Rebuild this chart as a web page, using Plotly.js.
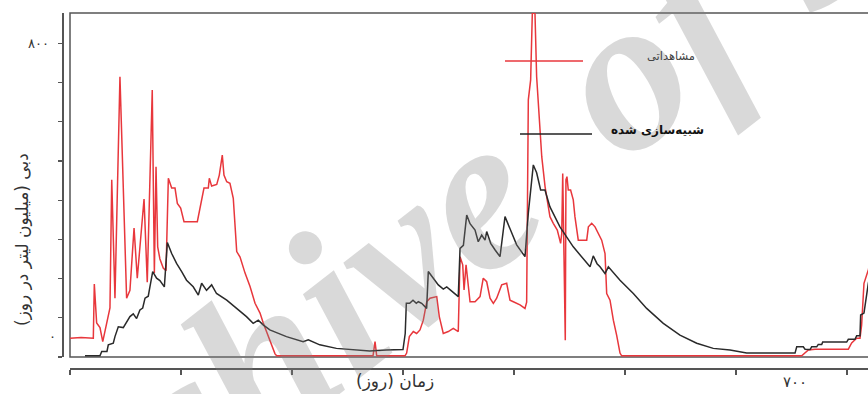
<!DOCTYPE html>
<html>
<head>
<meta charset="utf-8">
<script src="https://cdn.plot.ly/plotly-3.0.1.min.js"></script>
<style>
html,body{margin:0;padding:0;overflow:hidden;background:#fff;}
#chart{width:880px;height:394px;}
</style>
</head>
<body>
<div id="chart"></div>
<script>
// Observed discharge (مشاهداتی)
const obsDay = [0,10,21,21.9,24,27,29.5,33,36,37.6,40.5,45,51,54,57.7,60.6,66.7,69.6,74.1,76,77.5,79,81,84,86.5,88.6,91.6,94.6,96.7,99.7,102.7,114.7,118.6,120.7,124.6,125.5,127.6,132.2,134.5,137.2,138.7,141.2,144.1,147.1,150.2,153.2,157.7,162.2,166.7,171.2,174.1,180.2,184.7,186.2,273,274.8,276.3,301.8,303.3,305.7,309.3,312.3,315.3,318.3,321.4,324.3,330.4,332.7,336.3,340.8,345.3,349.8,351.4,353.8,355,356.8,358.8,360.4,364.9,369.4,372.3,375.4,378.4,381.4,384.4,388.9,393.4,396.4,399.4,405.4,409.9,411.4,412.9,415,416.5,418.9,420.4,422.8,425,428,429.5,432.4,435.4,439,442,443,443.9,445,446.2,446.8,447.7,448.9,451,453.4,454.9,457.9,465.5,467,470,473,476,479,482,483.5,486.5,489.5,492.5,495.5,497,659.2,665.2,671.2,701.2,704.2,708.7,711.7,713.2,715.3,719.2,722.5];
const obsFlow = [48,50,48,186,87,75,39,87,125,452,150,715,150,170,329,201,403,191,681,214,485,281,250,227,220,456,431,431,392,380,345,345,400,431,431,456,436,440,464,515,464,447,443,405,269,255,214,180,137,112,87,43,8,3,3,39,3,3,10,52,65,60,69,94,141,150,154,103,60,65,73,65,256,235,171,235,171,141,141,154,201,192,150,137,150,184,188,145,141,133,124,140,656,707,877,877,715,613,511,434,411,358,341,324,290,315,468,290,43,452,460,426,426,401,358,298,298,332,341,332,316,298,264,162,145,94,55,10,3,3,18,20,20,36,48,48,82,188,222,260];

// Simulated discharge (شبیه‌سازی شده)
const simDay = [13.5,27,28.6,33.3,34.5,39,40.5,43.5,48,49.5,51,54,57,60,63,65.5,67.6,70.5,72,74.5,78,81,85,87.7,91.6,96,100.6,105,111,115.6,118.6,123,127.6,132,141.2,150,159,165,169.6,174,180,195,210,214.7,225,240,255,270,285,300,302,303,306,309,312,313.8,316.8,321.3,322.8,327.3,331.8,336.3,339.4,343.9,349.8,351.4,354.4,357.4,360.4,364.9,367.8,370.9,373.9,375.4,379,383,387.4,391.9,397.3,402.4,409.9,412.9,417.4,420.4,424,427.9,432.4,441.4,453.4,465.5,468.5,471.4,474.8,477.5,482,485,495.5,507.5,519.5,534.5,549.5,564.6,579.5,594.6,609.6,653.2,654.7,660.6,662.2,666.7,668.2,672.7,674.1,677.2,678.1,699.7,701.2,707.2,708.7,711.7,712.3,715.3,717.1,719.2,722.5];
const simFlow = [3,3,14,14,31,35,52,77,75,82,86,103,110,98,120,125,150,155,179,218,201,195,179,292,264,239,218,196,179,158,188,170,184,162,145,124,103,86,94,82,69,52,39,44,31,22,18,15,18,19,60,137,137,145,137,141,137,124,218,200,184,173,179,168,154,277,285,362,340,324,294,311,298,320,290,273,256,358,320,286,256,367,490,470,426,426,383,332,281,239,230,258,238,230,213,230,196,162,124,86,56,35,22,18,10,10,26,26,20,19,26,26,32,32,38,38,45,45,54,54,107,112,145,188,230];

const yTickVals = [0,100,200,300,400,500,600,700,800];
const xTickVals = [0,100,200,300,400,500,600,700];

const seriesNames = ['مشاهداتی','شبیه‌سازی شده'];
const yTitle = 'دبی (میلیون لیتر در روز)';
const xTitle = 'زمان (روز)';
const yLabelTop = '۸۰۰';
const yLabelZero = '۰';
const xLabel = '۷۰۰';
const watermark = ['Archive', 'of SID'];

// pixel helpers (layout only)
const W = 880, H = 394, ML = 62, MR = 0, MT = 13, MB = 26;
const PW = W - ML - MR, PH = H - MT - MB;
const px = v => (v - ML) / PW;
const py = v => (H - MB - v) / PH;

const FONT = 'DejaVu Sans, Noto Sans, sans-serif';

function note(text, x, y, size, color, extra) {
  return Object.assign({text: text, xref: 'paper', yref: 'paper', x: px(x), y: py(y),
    xanchor: 'center', yanchor: 'middle', showarrow: false,
    font: {family: FONT, size: size, color: color}}, extra || {});
}
const WM_FONT = {family: 'Liberation Serif, serif', size: 220,
  color: 'rgba(128,128,128,0.3)', weight: 'bold', style: 'italic'};

const traces = [
  {x: obsDay, y: obsFlow, type: 'scatter', mode: 'lines', name: seriesNames[0],
   line: {color: '#e8373c', width: 1.5}, showlegend: false},
  {x: simDay, y: simFlow, type: 'scatter', mode: 'lines', name: seriesNames[1],
   line: {color: '#2a2a2a', width: 1.5}, showlegend: false}
];

const layout = {
  width: W, height: H,
  margin: {l: ML, r: MR, t: MT, b: MB, pad: 0},
  paper_bgcolor: '#fff', plot_bgcolor: 'rgba(0,0,0,0)',
  font: {family: FONT, color: '#333'},
  xaxis: {
    domain: [px(70), 1], anchor: 'free', position: 0,
    range: [0, 810/1.11], showgrid: false, zeroline: false,
    showline: true, linecolor: '#555', linewidth: 1.5,
    ticks: 'outside', ticklen: 5, tickcolor: '#555', tickwidth: 1.2,
    tickvals: xTickVals, showticklabels: false
  },
  yaxis: {
    domain: [py(357), 1], anchor: 'free', position: 0,
    range: [0, 344/0.392], showgrid: false, zeroline: false,
    showline: true, linecolor: '#555', linewidth: 1.5,
    ticks: 'outside', ticklen: 4, tickcolor: '#555', tickwidth: 1.2,
    tickvals: yTickVals, showticklabels: false
  },
  shapes: [
    {type: 'rect', xref: 'x domain', yref: 'y domain', x0: 0, x1: 1, y0: 0, y1: 1,
     line: {color: '#555', width: 1.5}, layer: 'below'},
    {type: 'line', xref: 'paper', yref: 'paper', x0: px(505), x1: px(583), y0: py(61), y1: py(61),
     line: {color: '#e8373c', width: 1.5}},
    {type: 'line', xref: 'paper', yref: 'paper', x0: px(520), x1: px(592), y0: py(134), y1: py(134),
     line: {color: '#222', width: 1.5}}
  ],
  annotations: [
    note(watermark[0], 227, 388, 220, '', {textangle: -38, font: WM_FONT}),
    note(watermark[1], 815, -78, 220, '', {textangle: -38, font: WM_FONT}),
    note(seriesNames[0], 671, 56, 11.5, '#444'),
    note('<b>' + seriesNames[1] + '</b>', 657, 130, 12, '#111'),
    note(yTitle, 22, 240, 17, '#333', {textangle: -90}),
    note(xTitle, 395, 381, 17, '#333'),
    note(yLabelTop, 38, 43, 13, '#333'),
    note(yLabelZero, 52, 336, 13, '#333'),
    note(xLabel, 795, 382, 15, '#333')
  ]
};

Plotly.newPlot('chart', traces, layout, {displayModeBar: false, staticPlot: true});
</script>
</body>
</html>
